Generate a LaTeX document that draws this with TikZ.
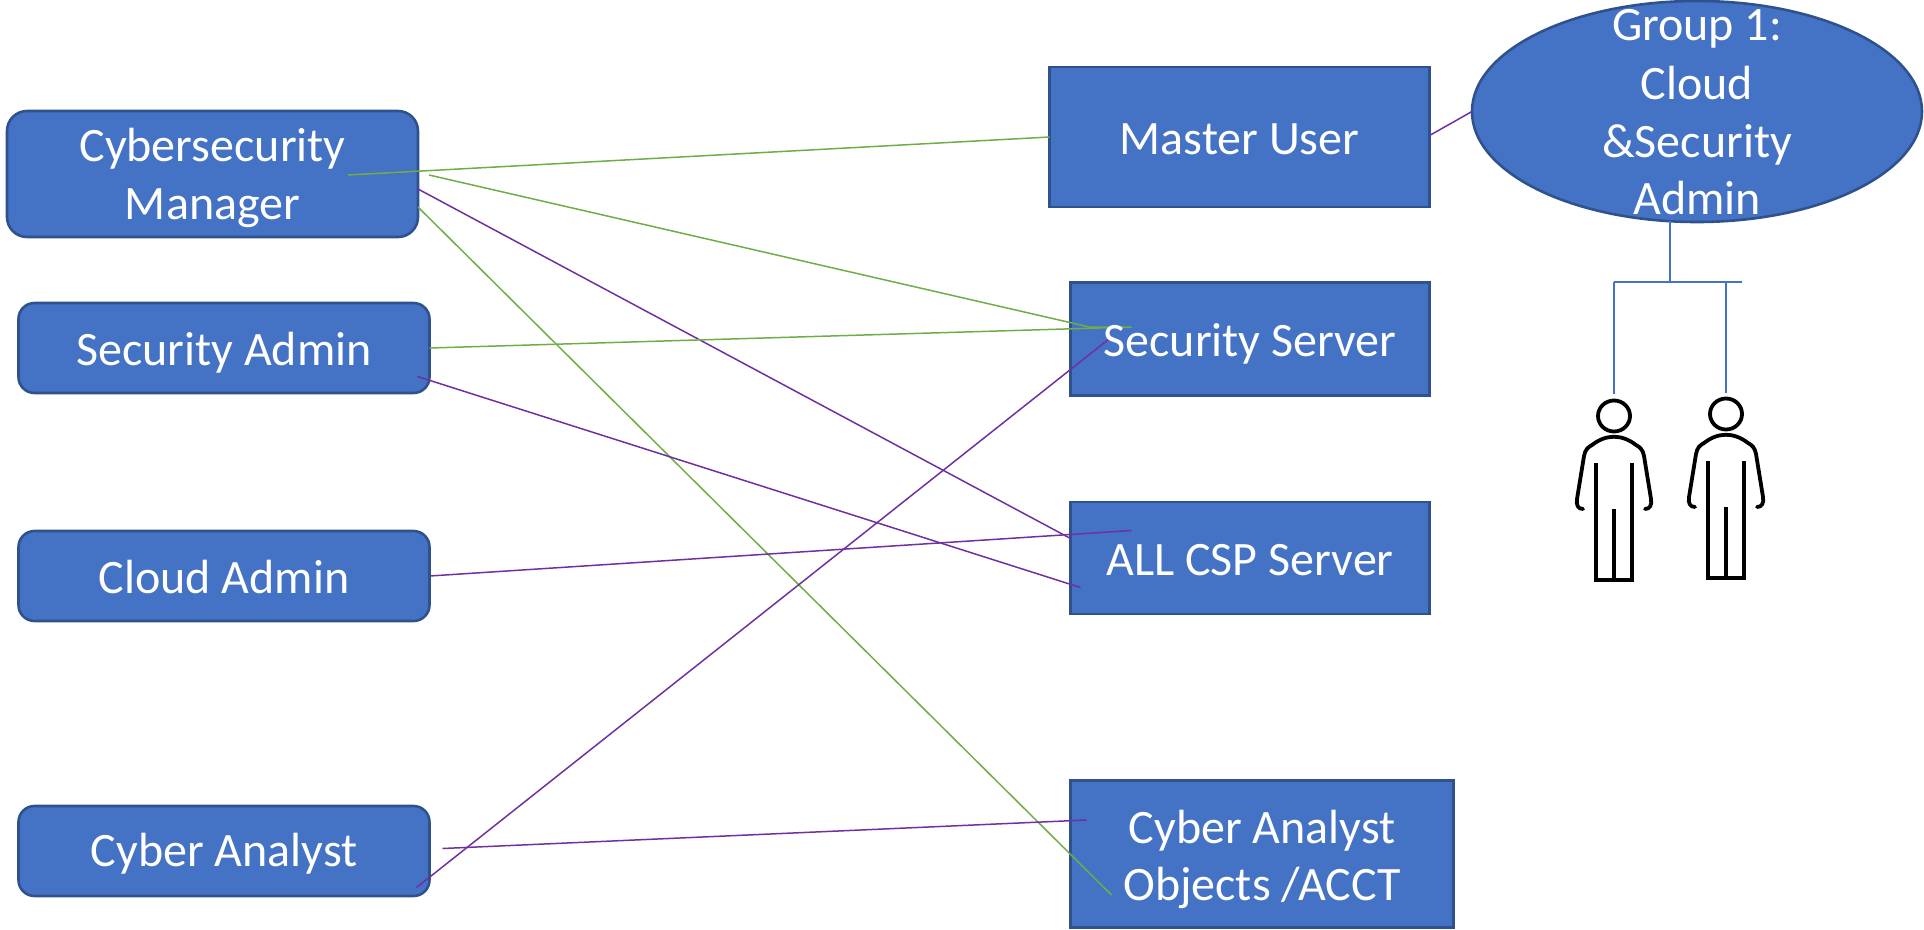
\documentclass[tikz,border=0pt]{standalone}
\usepackage{fontspec}
\setmainfont{Carlito}
\usetikzlibrary{shapes.geometric}
\definecolor{boxfill}{HTML}{4472C4}
\definecolor{boxline}{HTML}{2F528F}
\definecolor{linkgreen}{HTML}{70AD47}
\definecolor{linkpurple}{HTML}{7030A0}
\newcommand{\dl}[2]{\raisebox{-#1pt}[\height][\depth]{#2}}
\tikzset{
  x=1pt,y=-1pt,
  boxtext/.style={text=white,align=center,font=\fontsize{48}{58}\selectfont},
  plainbox/.style={draw=boxline,fill=boxfill,line width=2.6pt,inner sep=0pt,outer sep=0pt,boxtext},
  roundbox/.style={plainbox,rounded corners=16pt},
  greenlink/.style={linkgreen,line width=1.5pt},
  purplelink/.style={linkpurple,line width=1.5pt},
  bluelink/.style={boxfill,line width=1.5pt},
  figure/.pic={
    \draw[black,line width=3.8pt,line cap=round,line join=round]
      (0,-164) ellipse (16 and 15.5);
    \draw[black,line width=3.8pt,line cap=round,line join=round]
      (-31,-71) .. controls (-36,-71) and (-38,-75) .. (-37,-81)
      -- (-30,-124) .. controls (-29,-130) and (-26,-133) .. (-22,-135)
      .. controls (-8,-146) and (8,-146) .. (22,-135)
      .. controls (26,-133) and (29,-130) .. (30,-124)
      -- (37,-81) .. controls (38,-75) and (36,-71) .. (31,-71);
    \draw[black,line width=3.8pt,line join=miter]
      (-18,-117) -- (-18,0) -- (18,0) -- (18,-117);
    \draw[black,line width=3.8pt] (0,-71) -- (0,0);
  }
}
\begin{document}
\begin{tikzpicture}
\useasboundingbox (0,0) rectangle (1924,929);
% left column
\node[roundbox,rounded corners=20pt,minimum width=411pt,minimum height=126pt] (manager) at (212.5,174) {\dl{4}{Cybersecurity}\\\dl{4}{Manager}};
\node[roundbox,minimum width=411pt,minimum height=90pt] (secadmin) at (224,348) {\dl{5}{Security Admin}};
\node[roundbox,minimum width=411pt,minimum height=90pt] (cloudadmin) at (224,576) {\dl{1.5}{Cloud Admin}};
\node[roundbox,minimum width=411pt,minimum height=90pt] (analyst) at (224,851) {\dl{2.5}{Cyber Analyst}};
% right column
\node[plainbox,minimum width=380pt,minimum height=140pt] (master) at (1239.5,137) {\dl{2.5}{Master User}};
\node[plainbox,minimum width=359pt,minimum height=113pt] (secserver) at (1250,339) {};
\node[plainbox,minimum width=359pt,minimum height=112pt] (cspserver) at (1250,558) {\dl{2.5}{ALL CSP Server}};
\node[plainbox,minimum width=383pt,minimum height=147pt] (objects) at (1262,854) {\dl{6}{Cyber Analyst}\\\dl{5}{Objects /ACCT}};
% group ellipse
\node[ellipse,draw=boxline,fill=boxfill,line width=2.6pt,inner sep=0pt,outer sep=0pt,minimum width=450pt,minimum height=221pt] (group) at (1697,111.5) {};
\node[boxtext,inner sep=0pt] (grouplabel) at (group.center) {\dl{0.5}{Group 1:}\\\dl{2}{Cloud}\\\dl{2}{\&Security}\\\dl{1}{Admin}};
% figures
\pic at (1614,580) {figure};
\pic at (1726,578) {figure};
\coordinate (figonetop) at (1614,394);
\coordinate (figtwotop) at (1726,393);
\coordinate (busleft) at (1614,282);
\coordinate (busmid) at (1670,282);
\coordinate (busright) at (1742,282);
\coordinate (bustwo) at (1726,282);
\coordinate (grouplow) at (1670,221);
% connectors
\draw[greenlink] ([xshift=-70pt,yshift=-1pt]manager.east) -- ([yshift=0pt]master.west);
\draw[greenlink] ([xshift=11pt,yshift=-1pt]manager.east) -- ([xshift=19pt,yshift=12pt]secserver.west) -- ([xshift=53pt,yshift=12pt]secserver.west);
\draw[purplelink] ([yshift=-15pt]manager.east) -- ([yshift=19.5pt]cspserver.west);
\draw[greenlink] ([yshift=-33pt]manager.east) -- ([xshift=41pt,yshift=-41pt]objects.west);
\draw[greenlink] (secadmin.east) -- ([xshift=61pt,yshift=12pt]secserver.west);
\draw[purplelink] ([xshift=-12pt,yshift=-28.5pt]secadmin.east) -- ([xshift=10pt,yshift=-29.5pt]cspserver.west);
\draw[purplelink] (cloudadmin.east) -- ([xshift=61pt,yshift=27.5pt]cspserver.west);
\draw[purplelink] ([xshift=-13pt,yshift=-36.5pt]analyst.east) -- ([xshift=41pt,yshift=2pt]secserver.west);
\draw[purplelink] ([xshift=13pt,yshift=2.5pt]analyst.east) -- ([xshift=16pt,yshift=34pt]objects.west);
\draw[purplelink] ([yshift=1.5pt]master.east) -- (group.west);
\draw[bluelink] (grouplow) -- (busmid);
\draw[bluelink] (busleft) -- (busright);
\draw[bluelink] (busleft) -- (figonetop);
\draw[bluelink] (bustwo) -- (figtwotop);
% label over the connector ends
\node[boxtext,inner sep=0pt] (secserverlabel) at (secserver.center) {\dl{5}{Security Server}};
\end{tikzpicture}
\end{document}
